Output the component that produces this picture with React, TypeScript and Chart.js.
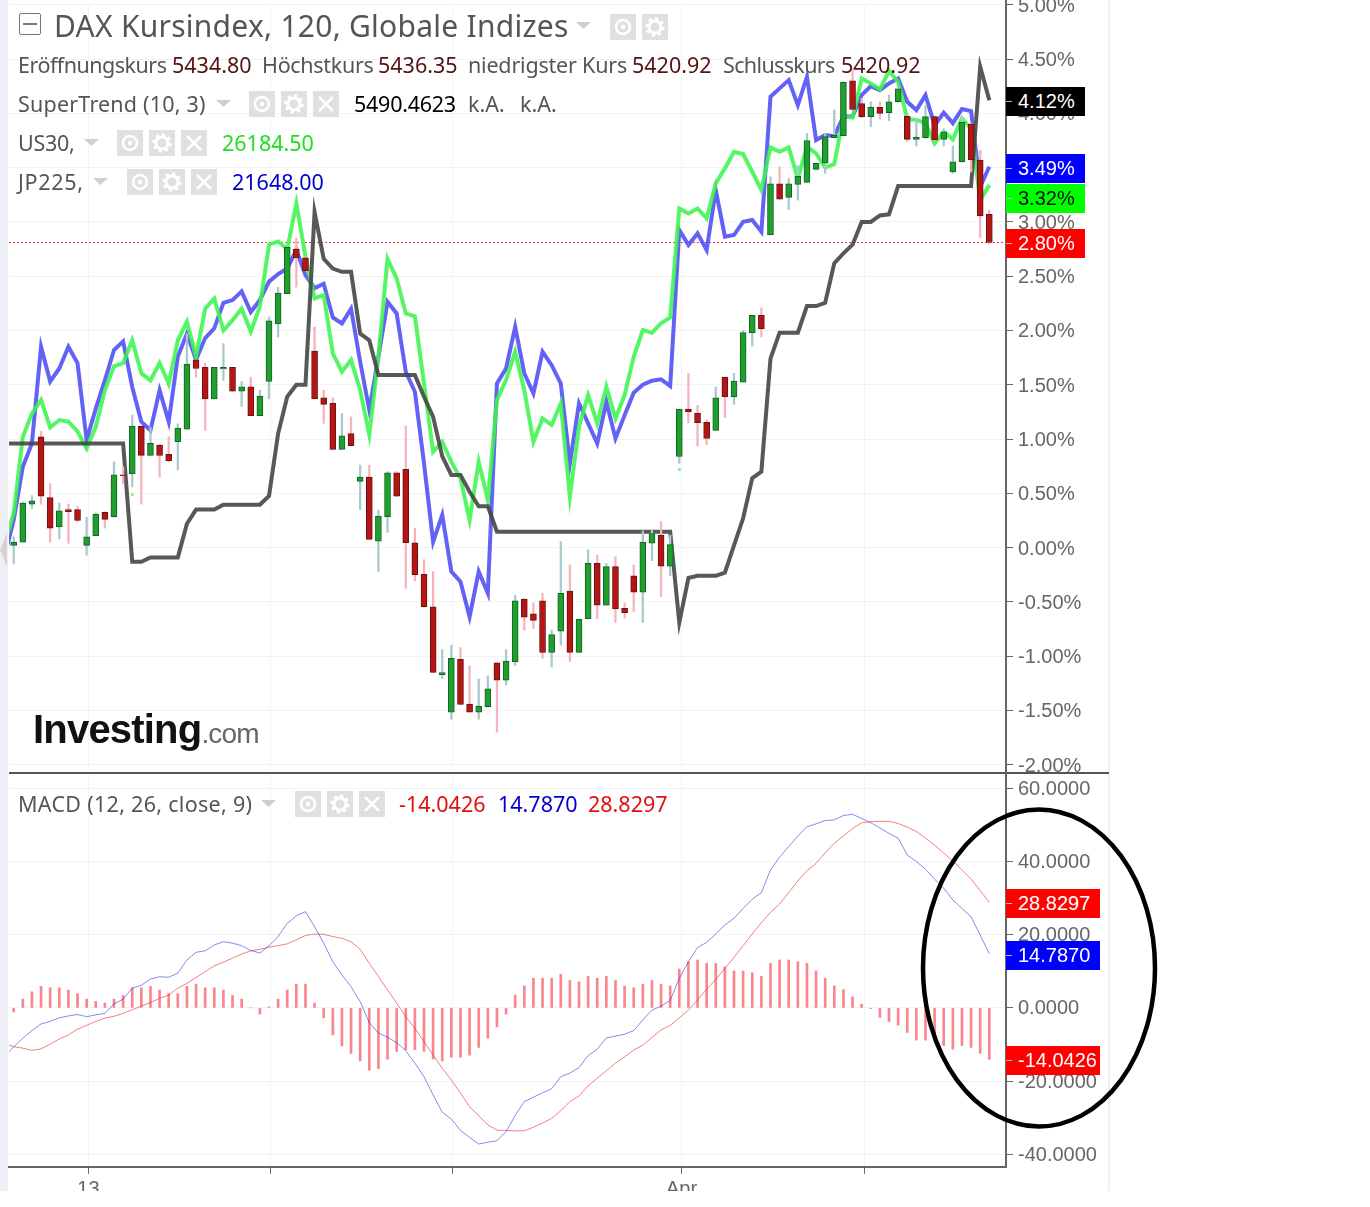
import { useEffect, useRef } from "react"
import Chart from "chart.js/auto"

// candles, one entry per 2h bar, values in percent
const candleOpen = [
  0.02, 0.05, 0.4, 1.02, 0.46, 0.19, 0.35, 0.35, 0.02, 0.11,
  0.325, 0.285, 0.67, 0.68, 1.12, 0.85, 0.945, 0.86, 0.975, 1.09,
  1.73, 1.66, 1.37, 1.645, 1.66, 1.44, 1.48, 1.215, 1.53, 2.06,
  2.34, 2.75, 2.67, 1.81, 1.38, 1.33, 0.905, 1.05, 0.61, 0.65,
  0.06, 0.285, 0.69, 0.72, 0.045, -0.245, -0.545, -1.17, -1.515, -1.03,
  -1.44, -1.515, -1.465, -1.06, -1.22, -1.05, -0.475, -0.61, -0.49, -0.965,
  -0.77, -0.4, -0.965, -0.655, -0.145, -0.53, -0.175, -0.56, -0.26, -0.41,
  0.04, 0.115, -0.17, 0.84, 1.276, 1.24, 1.155, 1.08, 1.57, 1.39,
  1.525, 1.98, 2.14, 2.88, 3.35, 3.226, 3.345, 3.364, 3.484, 3.54,
  3.775, 3.794, 4.3, 4.09, 3.97, 4.055, 4.005, 4.107, 3.972, 3.76,
  3.775, 3.97, 3.76, 3.46, 3.554, 3.9, 3.57, 3.07,
]
const candleHigh = [
  0.1, 0.42, 0.48, 1.07, 0.59, 0.41, 0.4, 0.38, 0.28, 0.32,
  0.33, 0.79, 0.745, 1.22, 1.12, 1.11, 0.95, 1.02, 1.14, 1.97,
  1.73, 1.7, 1.66, 1.88, 1.66, 1.53, 1.57, 1.45, 2.125, 2.4,
  2.765, 2.85, 2.68, 2.03, 1.45, 1.38, 1.236, 1.205, 0.76, 0.76,
  0.345, 0.7, 0.7, 1.12, 0.18, -0.11, -0.22, -0.94, -0.9, -0.92,
  -1.09, -1.21, -1.18, -1.06, -0.94, -0.44, -0.47, -0.51, -0.42, -0.76,
  0.055, -0.16, -0.66, -0.02, -0.07, -0.145, -0.085, -0.51, -0.16, 0.155,
  0.16, 0.24, 0.115, 1.276, 1.605, 1.31, 1.175, 1.48, 1.57, 1.605,
  2.0, 2.14, 2.21, 3.416, 3.51, 3.4, 3.52, 3.815, 3.54, 3.815,
  4.03, 4.29, 4.41, 4.137, 4.107, 4.107, 4.168, 4.245, 3.978, 3.953,
  4.076, 3.978, 3.86, 3.7, 3.97, 3.907, 3.66, 3.11,
]
const candleLow = [
  -0.15, 0.05, 0.36, 0.4, 0.05, 0.08, 0.04, 0.24, -0.07, 0.11,
  0.18, 0.28, 0.59, 0.56, 0.4, 0.85, 0.65, 0.79, 0.715, 1.09,
  1.57, 1.08, 1.37, 1.54, 1.435, 1.3, 1.215, 1.215, 1.37, 1.94,
  2.34, 2.4, 2.55, 1.37, 1.145, 0.9, 0.905, 0.94, 0.35, 0.075,
  -0.22, 0.14, 0.47, -0.375, -0.305, -0.55, -1.15, -1.205, -1.58, -1.445,
  -1.515, -1.58, -1.47, -1.7, -1.265, -1.085, -0.76, -0.745, -1.02, -1.1,
  -0.9, -1.05, -0.965, -0.655, -0.655, -0.53, -0.69, -0.65, -0.59, -0.69,
  -0.12, -0.45, -0.26, 0.776, 1.15, 0.935, 0.95, 1.08, 1.197, 1.32,
  1.525, 1.856, 1.94, 2.88, 3.21, 3.115, 3.2, 3.364, 3.48, 3.447,
  3.775, 3.794, 4.03, 3.96, 3.876, 3.947, 3.932, 4.1, 3.74, 3.7,
  3.77, 3.75, 3.7, 3.447, 3.55, 3.46, 2.857, 2.8,
]
const candleClose = [
  0.05, 0.41, 0.43, 0.475, 0.18, 0.34, 0.33, 0.25, 0.1, 0.31,
  0.26, 0.67, 0.66, 1.12, 0.85, 0.96, 0.85, 0.8, 1.1, 1.69,
  1.65, 1.37, 1.66, 1.66, 1.44, 1.48, 1.215, 1.395, 2.09, 2.345,
  2.765, 2.67, 2.55, 1.37, 1.32, 0.905, 1.03, 0.94, 0.65, 0.075,
  0.29, 0.69, 0.475, 0.045, -0.25, -0.545, -1.15, -1.15, -1.02, -1.445,
  -1.515, -1.46, -1.3, -1.22, -1.045, -0.49, -0.64, -0.67, -0.965, -0.8,
  -0.42, -0.965, -0.66, -0.145, -0.53, -0.175, -0.565, -0.6, -0.41, 0.05,
  0.13, -0.17, 0.027, 1.276, 1.25, 1.15, 1.005, 1.38, 1.39, 1.535,
  1.98, 2.14, 2.016, 3.35, 3.21, 3.35, 3.42, 3.75, 3.54, 3.785,
  3.797, 4.285, 4.036, 3.97, 4.055, 4.0, 4.107, 4.226, 3.76, 3.78,
  3.97, 3.754, 3.83, 3.554, 3.92, 3.57, 3.054, 2.81,
]

// overlay lines start one bar before the first candle (it is cut off by the pane edge)
const superTrend = [
  0.96, 0.96, 0.96, 0.96, 0.96, 0.96, 0.96, 0.96, 0.96, 0.96,
  0.96, 0.96, 0.96, 0.96, -0.13, -0.13, -0.09, -0.09, -0.09, -0.09,
  0.22, 0.35, 0.35, 0.35, 0.395, 0.395, 0.395, 0.395, 0.395, 0.475,
  1.05, 1.39, 1.5, 1.5, 3.09, 2.66, 2.57, 2.54, 2.54, 1.97,
  1.91, 1.59, 1.59, 1.59, 1.59, 1.59, 1.39, 1.205, 0.84, 0.67,
  0.67, 0.515, 0.38, 0.38, 0.146, 0.146, 0.146, 0.146, 0.146, 0.146,
  0.146, 0.146, 0.146, 0.146, 0.146, 0.146, 0.146, 0.146, 0.146, 0.146,
  0.146, 0.146, 0.146, 0.146, -0.69, -0.28, -0.26, -0.26, -0.26, -0.23,
  0.02, 0.27, 0.64, 0.7, 1.74, 1.98, 1.98, 1.98, 2.225, 2.225,
  2.255, 2.62, 2.71, 2.79, 3.0, 3.0, 3.06, 3.07, 3.33, 3.33,
  3.33, 3.33, 3.33, 3.33, 3.33, 3.33, 3.33, 4.43, 4.12,
]
const us30 = [
  0.04, 0.315, 1.02, 1.235, 1.36, 1.107, 1.175, 1.16, 1.07, 0.914,
  1.113, 1.45, 1.67, 1.7, 1.91, 1.605, 1.54, 1.7, 1.51, 1.91,
  2.08, 1.76, 2.2, 2.295, 2.0, 2.095, 2.2, 1.99, 2.22, 2.79,
  2.82, 2.75, 3.17, 2.68, 2.295, 2.326, 1.79, 1.62, 1.727, 1.45,
  1.04, 1.76, 2.66, 2.48, 2.157, 2.13, 1.512, 0.883, 0.975, 0.79,
  0.638, 0.254, 0.79, 0.438, 1.359, 1.543, 1.804, 1.45, 0.975, 1.19,
  1.13, 1.328, 0.47, 1.113, 1.405, 1.144, 1.482, 1.19, 1.405, 1.758,
  2.004, 1.98, 2.065, 2.12, 3.124, 3.078, 3.124, 3.032, 3.355, 3.493,
  3.646, 3.625, 3.462, 3.293, 3.686, 3.646, 3.686, 3.4, 3.692, 3.63,
  3.5, 3.533, 3.97, 3.96, 4.32, 4.276, 4.22, 4.39, 4.29, 3.947,
  3.94, 3.91, 3.723, 3.83, 3.76, 3.953, 3.86, 3.2, 3.34,
]
const jp225 = [
  -0.08, 0.254, 0.745, 0.96, 1.85, 1.53, 1.65, 1.85, 1.7, 0.99,
  1.28, 1.54, 1.82, 1.9, 1.48, 1.16, 1.08, 1.45, 1.16, 1.76,
  1.97, 1.73, 1.93, 2.02, 2.255, 2.28, 2.36, 2.17, 2.28, 2.45,
  2.52, 2.57, 2.74, 2.51, 2.39, 2.43, 2.12, 2.065, 2.2, 1.712,
  1.267, 1.758, 2.264, 2.157, 1.62, 1.436, 0.776, 0.054, 0.3, -0.22,
  -0.314, -0.637, -0.22, -0.42, 1.512, 1.65, 2.034, 1.604, 1.42, 1.804,
  1.68, 1.512, 0.776, 1.328, 1.144, 0.96, 1.344, 1.006, 1.22, 1.427,
  1.5, 1.537, 1.55, 1.488, 2.925, 2.787, 2.894, 2.74, 3.293, 2.864,
  2.879, 3.0, 3.017, 2.91, 4.153, 4.23, 4.306, 4.076, 4.337, 3.754,
  3.8, 3.79, 3.97, 3.97, 4.168, 4.25, 4.214, 4.276, 4.32, 4.107,
  4.03, 4.168, 3.89, 4.005, 3.91, 4.04, 4.02, 3.324, 3.508,
]

// stray dots of the other instruments
const speckBars = [13, 73, 33, 106]
const speckValues = [0.49, 0.72, 2.02, 3.64]
const speckColors = ["#7df58a", "#7df58a", "#f7a0a8", "#f7a0a8"]

const lastPrice = 2.81

const macdHist = [
  -1.1, 2.4, 4.4, 5.9, 5.5, 5.5, 4.9, 3.9, 2.4, 1.8,
  1.3, 2.4, 3.4, 5.5, 5.5, 5.9, 4.9, 3.9, 3.9, 5.9,
  6.5, 5.5, 5.5, 4.9, 3.4, 2.4, 0, -1.7, 0.3, 2.4,
  4.9, 6.5, 6.5, 1.3, -2.7, -7.4, -10.4, -12.4, -14.5, -17.0,
  -16.6, -14.0, -11.9, -11.4, -11.4, -11.9, -14.0, -14.5, -13.5, -13.5,
  -12.9, -10.8, -8.3, -5.2, -1.7, 3.5, 6.0, 8.1, 8.1, 8.1,
  9.2, 7.5, 7.1, 8.6, 8.1, 8.6, 7.5, 6.0, 5.5, 6.5,
  7.5, 6.5, 6.0, 10.6, 12.6, 13.1, 12.2, 12.2, 11.2, 10.1,
  10.1, 9.6, 8.6, 12.2, 13.1, 13.1, 12.6, 12.2, 10.1, 8.1,
  6.0, 5.0, 3.0, 1.0, -0.2, -2.6, -3.7, -4.7, -6.7, -8.8,
  -8.8, -8.8, -10.3, -11.3, -10.3, -10.8, -12.4, -14.04,
]
const macdLine = [
  -13.3, -10.6, -8.3, -6.2, -4.4, -3.7, -2.7, -2.2, -1.8, -2.4,
  -1.9, -1.5, 1.1, 2.4, 5.4, 6.2, 7.9, 8.5, 8.4, 9.5,
  13.1, 15.2, 15.6, 17.2, 18.1, 17.7, 17.0, 15.7, 15.0, 17.0,
  19.5, 23.1, 25.2, 26.3, 22.2, 17.7, 12.6, 9.0, 5.8, 1.7,
  -4.0, -6.9, -8.0, -9.5, -11.7, -15.1, -18.8, -23.8, -28.5, -30.4,
  -33.5, -35.4, -37.2, -36.7, -36.3, -33.8, -29.4, -25.6, -24.4, -23.2,
  -22.1, -18.8, -17.8, -16.3, -13.0, -11.3, -8.2, -7.7, -7.2, -6.2,
  -3.3, -0.6, 0.5, 2.0, 8.1, 12.6, 16.5, 17.9, 20.2, 22.7,
  24.5, 27.2, 29.7, 31.5, 37.7, 41.2, 44.1, 47.0, 49.5, 50.3,
  51.2, 51.4, 52.6, 52.9, 51.8, 50.6, 49.2, 47.7, 46.4, 41.8,
  40.0, 37.9, 35.2, 32.7, 29.5, 27.2, 24.9, 19.9, 14.8,
]
const signalLine = [
  -9.7, -10.6, -11.0, -11.6, -11.2, -9.9, -8.5, -7.4, -5.8, -4.75,
  -3.7, -2.8, -2.3, -1.5, -0.5, 0.5, 1.5, 2.6, 3.5, 5.4,
  6.7, 8.3, 9.9, 11.5, 12.5, 13.6, 14.7, 15.6, 16.0, 16.6,
  17.0, 17.5, 18.6, 19.8, 20.2, 20.1, 19.5, 19.0, 18.1, 16.0,
  12.2, 8.6, 4.9, 1.3, -2.4, -5.6, -9.2, -12.9, -16.5, -19.7,
  -23.3, -27.0, -29.5, -32.0, -33.4, -33.5, -33.6, -33.6, -32.6, -31.5,
  -30.2, -28.1, -25.6, -24.1, -21.3, -19.2, -17.2, -15.1, -13.4, -11.5,
  -10.2, -8.1, -6.0, -4.8, -2.7, -0.6, 2.2, 5.1, 7.8, 10.8,
  13.8, 17.0, 20.2, 23.3, 26.1, 28.4, 31.5, 34.7, 37.5, 39.5,
  42.4, 45.0, 47.0, 49.0, 50.6, 50.9, 51.0, 51.0, 50.4, 49.4,
  48.2, 46.4, 44.5, 42.3, 40.2, 37.7, 35.2, 32.1, 28.8,
]

const priceTicks = [5, 4.5, 4, 3.5, 3, 2.5, 2, 1.5, 1, 0.5, 0, -0.5, -1, -1.5, -2]
const macdTicks = [60, 40, 20, 0, -20, -40]
const timeTicks = [8.2, 28.15, 48.15, 73.25, 93.3]
const timeLabels = ["13", "", "", "Apr", ""]

const xMin = -0.515
const xMax = 108.83

const GRID = "#f3f3f4"
const AXIS = "#666666"
const TICK_FONT = { family: "'Liberation Sans', Arial, sans-serif", size: 20 }

function lineData(values: number[]) {
  return values.map((y, i) => ({ x: i - 1, y }))
}

function lineSet(label: string, values: number[], color: string, width: number) {
  return {
    type: "line",
    label,
    data: lineData(values),
    borderColor: color,
    borderWidth: width,
    pointRadius: 0,
    tension: 0,
    fill: false,
    borderJoinStyle: "miter",
    order: 3,
  }
}

function noLabelPadding(scale: any) {
  scale.paddingTop = 0
  scale.paddingBottom = 0
  scale.paddingLeft = 0
  scale.paddingRight = 0
}

function xScale(withLabels: boolean) {
  return {
    type: "linear",
    min: xMin,
    max: xMax,
    offset: false,
    afterBuildTicks: (scale: any) => {
      scale.ticks = timeTicks.map((value) => ({ value }))
    },
    afterFit: (scale: any) => {
      scale.height = withLabels ? 24 : 0
      noLabelPadding(scale)
    },
    grid: {
      offset: false,
      color: GRID,
      tickColor: AXIS,
      tickLength: 7,
      drawTicks: withLabels,
    },
    border: withLabels ? { color: AXIS, width: 2 } : { display: false },
    ticks: {
      display: withLabels,
      autoSkip: false,
      maxRotation: 0,
      padding: 3,
      color: AXIS,
      font: TICK_FONT,
      callback: (value: number) => timeLabels[timeTicks.indexOf(value)] ?? "",
    },
  }
}

function yScale(min: number, max: number, values: number[], digits: number, suffix: string, labelOffset: number) {
  return {
    type: "linear",
    position: "right",
    min,
    max,
    afterBuildTicks: (scale: any) => {
      scale.ticks = values.map((value) => ({ value }))
    },
    afterFit: (scale: any) => {
      scale.width = 114
      noLabelPadding(scale)
    },
    grid: { color: GRID, tickColor: AXIS, tickLength: 7 },
    border: { color: AXIS, width: 2 },
    ticks: {
      padding: 5,
      labelOffset,
      color: AXIS,
      font: TICK_FONT,
      callback: (value: number) => value.toFixed(digits) + suffix,
    },
  }
}

const baseOptions = {
  responsive: false,
  animation: false,
  plugins: { legend: { display: false }, tooltip: { enabled: false }, title: { display: false } },
}

function makePriceChart(canvas: HTMLCanvasElement) {
  const up = candleOpen.map((o, i) => candleClose[i] >= o)
  return new Chart(canvas, {
    type: "bar",
    data: {
      datasets: [
        lineSet("SuperTrend", superTrend, "rgba(70,70,70,0.9)", 4),
        lineSet("US30", us30, "rgba(60,245,80,0.88)", 4),
        lineSet("JP225", jp225, "rgba(70,70,245,0.85)", 4),
        {
          type: "line",
          label: "Last",
          data: [
            { x: xMin, y: lastPrice },
            { x: xMax, y: lastPrice },
          ],
          borderColor: "#ff3040",
          borderWidth: 1,
          borderDash: [2, 2],
          pointRadius: 0,
          order: 4,
        },
        {
          type: "line",
          label: "Specks",
          data: speckBars.map((x, i) => ({ x, y: speckValues[i] })),
          showLine: false,
          pointStyle: "rect",
          pointRadius: 2,
          pointBorderWidth: 0,
          pointBackgroundColor: speckColors,
          order: 4,
        },
        {
          type: "bar",
          label: "Wick",
          data: candleLow.map((low, i) => ({ x: i, y: [low, candleHigh[i]] })),
          backgroundColor: up.map((u) => (u ? "#a9c9cd" : "#f5b4bc")),
          barThickness: 1.6,
          grouped: false,
          order: 2,
        },
        {
          type: "bar",
          label: "Body",
          data: candleOpen.map((o, i) => ({ x: i, y: [o, candleClose[i]] })),
          backgroundColor: up.map((u) => (u ? "#1f9f2c" : "#b81414")),
          borderColor: up.map((u) => (u ? "#14602a" : "#631414")),
          borderWidth: 1,
          borderSkipped: false,
          barThickness: 6,
          grouped: false,
          order: 1,
        },
      ],
    },
    options: {
      ...baseOptions,
      layout: { padding: { left: 9, right: 0, top: 0, bottom: 0 } },
      scales: {
        x: xScale(false),
        y: yScale(-2.039, 5.007, priceTicks, 2, "%", 1.4),
      },
    },
  } as any)
}

function makeMacdChart(canvas: HTMLCanvasElement) {
  return new Chart(canvas, {
    type: "bar",
    data: {
      datasets: [
        lineSet("MACD", macdLine, "rgba(40,40,215,0.55)", 1),
        lineSet("Signal", signalLine, "rgba(240,40,40,0.6)", 1),
        {
          type: "bar",
          label: "Histogram",
          data: macdHist.map((y, i) => ({ x: i, y })),
          backgroundColor: "rgba(245,60,70,0.62)",
          barThickness: 2,
          grouped: false,
          order: 4,
        },
      ],
    },
    options: {
      ...baseOptions,
      layout: { padding: { left: 9, right: 0, top: 0, bottom: 0 } },
      scales: {
        x: xScale(true),
        y: yScale(-43.48, 64.2, macdTicks, 4, "", 1),
      },
    },
  } as any)
}

const LEGEND_FONT = "'Noto Sans', sans-serif"

function Txt({ x, y, size = 21.5, ls = 0, color = "#555", children }: any) {
  return (
    <div
      style={{
        position: "absolute",
        left: x,
        top: y,
        transform: "translateY(-50%)",
        font: `${size}px ${LEGEND_FONT}`,
        letterSpacing: ls,
        color,
        whiteSpace: "nowrap",
        lineHeight: 1,
      }}
    >
      {children}
    </div>
  )
}

function Caret({ x, y }: any) {
  return (
    <svg style={{ position: "absolute", left: x, top: y }} width="15" height="8">
      <path d="M0 0H15L7.5 7Z" fill="#cfcfcf" />
    </svg>
  )
}

function Btn({ x, y, kind }: any) {
  return (
    <svg style={{ position: "absolute", left: x, top: y }} width="26" height="26">
      <rect width="26" height="26" fill="#e0e0e0" />
      {kind === "eye" && (
        <>
          <circle cx="13" cy="13" r="7" fill="none" stroke="#fff" strokeWidth="2.5" />
          <circle cx="13" cy="13" r="2.2" fill="#fff" />
        </>
      )}
      {kind === "gear" && (
        <>
          <circle cx="13" cy="13" r="6" fill="none" stroke="#fff" strokeWidth="3" />
          <circle cx="13" cy="13" r="8.2" fill="none" stroke="#fff" strokeWidth="3" strokeDasharray="3.2 3.2" />
        </>
      )}
      {kind === "close" && <path d="M6 6L20 20M20 6L6 20" stroke="#fff" strokeWidth="2.5" />}
    </svg>
  )
}

function Buttons({ xs, y }: any) {
  const kinds = ["eye", "gear", "close"]
  return xs.map((x: number, i: number) => <Btn key={x} x={x} y={y} kind={kinds[i]} />)
}

function Tag({ y, width, bg, color = "#fff", children }: any) {
  return (
    <div
      style={{
        position: "absolute",
        left: 1006,
        top: y,
        width,
        height: 29,
        background: bg,
        color,
        font: "20px 'Liberation Sans', Arial, sans-serif",
        lineHeight: "29px",
        paddingLeft: 12,
        boxSizing: "border-box",
      }}
    >
      <div style={{ position: "absolute", left: 0, top: 14, width: 6, height: 1, background: "#bbb" }} />
      {children}
    </div>
  )
}

export default function App() {
  const priceRef = useRef<HTMLCanvasElement>(null)
  const macdRef = useRef<HTMLCanvasElement>(null)

  useEffect(() => {
    if (!priceRef.current || !macdRef.current) return
    const price = makePriceChart(priceRef.current)
    const macd = makeMacdChart(macdRef.current)
    return () => {
      price.destroy()
      macd.destroy()
    }
  }, [])

  return (
    <div style={{ position: "absolute", left: 0, top: 0, width: 1370, height: 1207, background: "#fff", overflow: "hidden" }}>
      <div style={{ position: "absolute", left: 0, top: 0, width: 8, height: 1191, background: "#eef0f5" }} />
      <div style={{ position: "absolute", left: 1108, top: 0, width: 2, height: 1191, background: "#eef0f5" }} />
      <svg style={{ position: "absolute", left: 0, top: 533 }} width="8" height="34">
        <path d="M7 0V34L0 17Z" fill="#d4d4d4" />
      </svg>

      <canvas ref={priceRef} width={1120} height={773} style={{ position: "absolute", left: 0, top: 0 }} />
      <canvas ref={macdRef} width={1120} height={418} style={{ position: "absolute", left: 0, top: 773 }} />

      <div style={{ position: "absolute", left: 9, top: 772, width: 1100, height: 2, background: "#555" }} />
      <div style={{ position: "absolute", left: 1005, top: 0, width: 2, height: 1167, background: AXIS }} />

      <div style={{ position: "absolute", left: 19, top: 13, width: 22, height: 22, border: "1.5px solid #777", boxSizing: "border-box", borderRadius: 2 }}>
        <div style={{ position: "absolute", left: 3, right: 3, top: 9, height: 1.5, background: "#777" }} />
      </div>
      <Txt x={54} y={26} size={30} ls={0.26}>DAX Kursindex, 120, Globale Indizes</Txt>
      <Caret x={576} y={22} />
      <Btn x={610} y={14} kind="eye" />
      <Btn x={642} y={14} kind="gear" />

      <Txt x={18} y={65} ls={-0.5}>Eröffnungskurs</Txt>
      <Txt x={172} y={65} color="#541414">5434.80</Txt>
      <Txt x={262} y={65} ls={-0.3}>Höchstkurs</Txt>
      <Txt x={378} y={65} color="#541414">5436.35</Txt>
      <Txt x={468} y={65} ls={-0.2}>niedrigster Kurs</Txt>
      <Txt x={632} y={65} color="#541414">5420.92</Txt>
      <Txt x={723} y={65} ls={-0.64}>Schlusskurs</Txt>
      <Txt x={841} y={65} color="#541414">5420.92</Txt>

      <Txt x={18} y={104} ls={0.2}>SuperTrend (10, 3)</Txt>
      <Caret x={216} y={100} />
      <Buttons xs={[249, 281, 313]} y={91} />
      <Txt x={354} y={104} color="#000" ls={-0.25}>5490.4623</Txt>
      <Txt x={468} y={104}>k.A.</Txt>
      <Txt x={520} y={104}>k.A.</Txt>

      <Txt x={18} y={143} ls={-0.3}>US30,</Txt>
      <Caret x={84} y={139} />
      <Buttons xs={[117, 149, 181]} y={130} />
      <Txt x={222} y={143} color="#1fe01f">26184.50</Txt>

      <Txt x={18} y={182} ls={0.7}>JP225,</Txt>
      <Caret x={93} y={178} />
      <Buttons xs={[127, 159, 191]} y={169} />
      <Txt x={232} y={182} color="#0000cc">21648.00</Txt>

      <Txt x={18} y={804} ls={0.3}>MACD (12, 26, close, 9)</Txt>
      <Caret x={261} y={800} />
      <Buttons xs={[295, 327, 359]} y={791} />
      <Txt x={399} y={804} color="#e01010">-14.0426</Txt>
      <Txt x={498} y={804} color="#0000cc">14.7870</Txt>
      <Txt x={588} y={804} color="#e01010">28.8297</Txt>

      <div style={{ position: "absolute", left: 33, top: 707, whiteSpace: "nowrap", lineHeight: "44px", fontFamily: "'Liberation Sans', Arial, sans-serif", letterSpacing: -0.8 }}>
        <span style={{ fontSize: 40, fontWeight: 700, color: "#111" }}>Investing</span>
        <span style={{ fontSize: 28, color: "#666" }}>.com</span>
      </div>

      <Tag y={87} width={79} bg="#000">4.12%</Tag>
      <Tag y={154} width={79} bg="#0000ff">3.49%</Tag>
      <Tag y={184} width={79} bg="#00ff00" color="#111">3.32%</Tag>
      <Tag y={229} width={79} bg="#ff0000">2.80%</Tag>
      <Tag y={889} width={94} bg="#ff0000">28.8297</Tag>
      <Tag y={941} width={94} bg="#0000ff">14.7870</Tag>
      <Tag y={1046} width={94} bg="#ff0000">-14.0426</Tag>

      <svg style={{ position: "absolute", left: 0, top: 0, pointerEvents: "none" }} width="1370" height="1207">
        <ellipse cx="1039" cy="968" rx="116" ry="158.5" fill="none" stroke="#000" strokeWidth="4.5" />
      </svg>
    </div>
  )
}
